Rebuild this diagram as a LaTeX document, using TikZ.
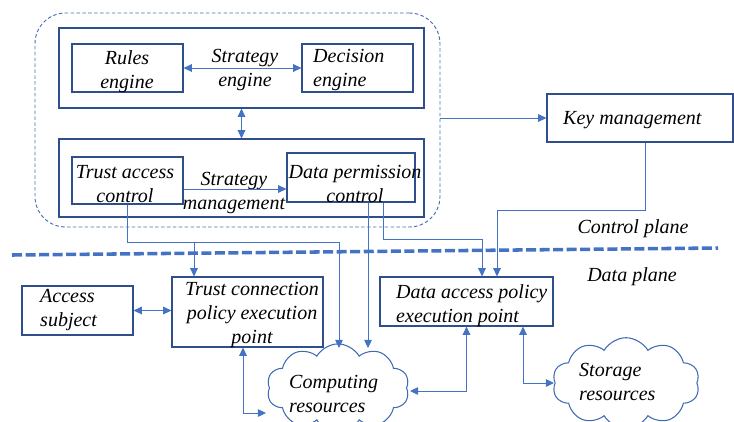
\documentclass[tikz,border=0pt]{standalone}
\usepackage{fontspec}
\setmainfont{Liberation Serif}
\usetikzlibrary{arrows.meta,calc,fit,shapes.symbols}
\definecolor{boxc}{HTML}{2F4E8C}
\definecolor{arrc}{HTML}{4472C4}
\definecolor{outc}{HTML}{4A6FB0}
\definecolor{cloudc}{HTML}{3F6BB5}
\tikzset{
  box/.style={draw=boxc, line width=1pt, inner sep=0pt},
  txt/.style={font=\itshape\fontsize{17}{20.5}\selectfont, inner sep=0pt, align=center, yshift=-2pt},
  ltxt/.style={txt, align=left, anchor=west},
  arr/.style={draw=arrc, line width=0.8pt, -{Triangle[length=7pt,width=6.5pt]}},
  dbl/.style={draw=arrc, line width=0.8pt, {Triangle[length=7pt,width=6.5pt]}-{Triangle[length=7pt,width=6.5pt]}},
  cloudbox/.style={cloud, cloud puffs=10, cloud puff arc=120, aspect=1.6, draw=cloudc, line width=0.9pt, inner sep=0pt}
}
\begin{document}
\begin{tikzpicture}[x=0.85pt,y=-0.85pt]
\useasboundingbox (0,0) rectangle (734,421);
\clip (0,0) rectangle (734,421);
% outer dashed region
\node[draw=outc, dash pattern=on 3pt off 2pt, line width=0.8pt, rounded corners=26pt, inner sep=0pt, fit={(35,13) (440,227)}] (outer) {};
% top and bottom inner boxes
\node[box, fit={(59,28) (424,108)}] (top) {};
\node[box, fit={(59,139) (424,217)}] (bot) {};
\node[box, fit={(72,44) (183,92)}] (rules) {};
\node[box, fit={(302,44) (413,92)}] (dec) {};
\node[box, fit={(72,157) (183,204)}] (tac) {};
\node[box, fit={(287,153) (415,202)}] (dp) {};
\node[box, fit={(547,94) (733,142)}] (key) {};
\node[box, fit={(22,286) (133,335)}] (as) {};
\node[box, fit={(172,277) (323,347)}] (tc) {};
\node[box, fit={(380,277) (553,326)}] (da) {};
\node[cloudbox, minimum width=121pt, minimum height=75pt] (comp) at (338,388) {};
\node[cloudbox, minimum width=125pt, minimum height=77pt] (stor) at (626,383) {};
% texts
\node[txt] (tRules) at (127,69) {Rules\\engine};
\node[txt] (tStrat) at (245,68) {Strategy\\engine};
\node[ltxt] (tDec) at (313,68) {Decision\\engine};
\node[txt] (tTac) at (125,182) {Trust access\\control};
\node[txt] (tDp) at (355,182) {Data permission\\control};
\node[txt] (tSm) at (234,191) {Strategy\\management};
\node[ltxt] (tKey) at (563,118) {Key management};
\node[txt] (tCtrl) at (633,226) {Control plane};
\node[txt] (tData) at (632,274) {Data plane};
\node[ltxt] (tAs) at (40,308) {Access\\subject};
\node[txt] (tTc) at (252,313) {Trust connection\\policy execution\\point};
\node[ltxt] (tDa) at (396,303) {Data access policy\\execution point};
\node[ltxt] (tComp) at (289,392) {Computing\\resources};
\node[ltxt] (tStor) at (579,380) {Storage\\resources};
% plane separator
\coordinate (sepL) at (12,255);
\coordinate (sepR) at (718,248);
\draw[arrc, line width=3pt, dash pattern=on 8.5pt off 3pt] (sepL) -- (sepR);
% connectors
\draw[dbl] (rules.east) -- (dec.west);
\draw[dbl] (top.south) -- (bot.north);
\coordinate (smA) at ($(tac.east)+(0,8.5)$);
\draw[arr] (smA) -- (smA -| dp.west);
\draw[arr] (outer.east |- key.west) -- (key.west);
\coordinate (k1) at ($(key.south)+(5.5,0)$);
\coordinate (daK) at ($(da.north)+(30.5,0)$);
\draw[arr] (k1) -- ++(0,68) -| (daK);
\coordinate (cTop1) at (339,348);
\coordinate (cTop2) at (368,348);
\draw[arr] (tac.south) -- ++(0,38) -| (cTop1);
\coordinate (j1) at (194,242);
\draw[arr] (j1) -- (j1 |- tc.north);
\coordinate (dp1) at ($(dp.south)+(17,0)$);
\draw[arr] (dp1) -- (cTop2);
\coordinate (dp2) at ($(dp.south)+(32,0)$);
\coordinate (daP) at ($(da.north)+(15.5,0)$);
\draw[arr] (dp2) -- ++(0,37) -| (daP);
\coordinate (tc1) at ($(tc.south)+(-4.5,0)$);
\coordinate (cLeft) at (266,413);
\draw[dbl] (tc1) |- (cLeft);
\coordinate (cRight) at (410,391);
\draw[dbl] (da.south) |- (cRight);
\coordinate (da2) at ($(da.south)+(56.5,0)$);
\coordinate (sLeft) at (554,383);
\draw[dbl] (da2) |- (sLeft);
\draw[dbl] (as.east) -- (as.east -| tc.west);
\end{tikzpicture}
\end{document}
